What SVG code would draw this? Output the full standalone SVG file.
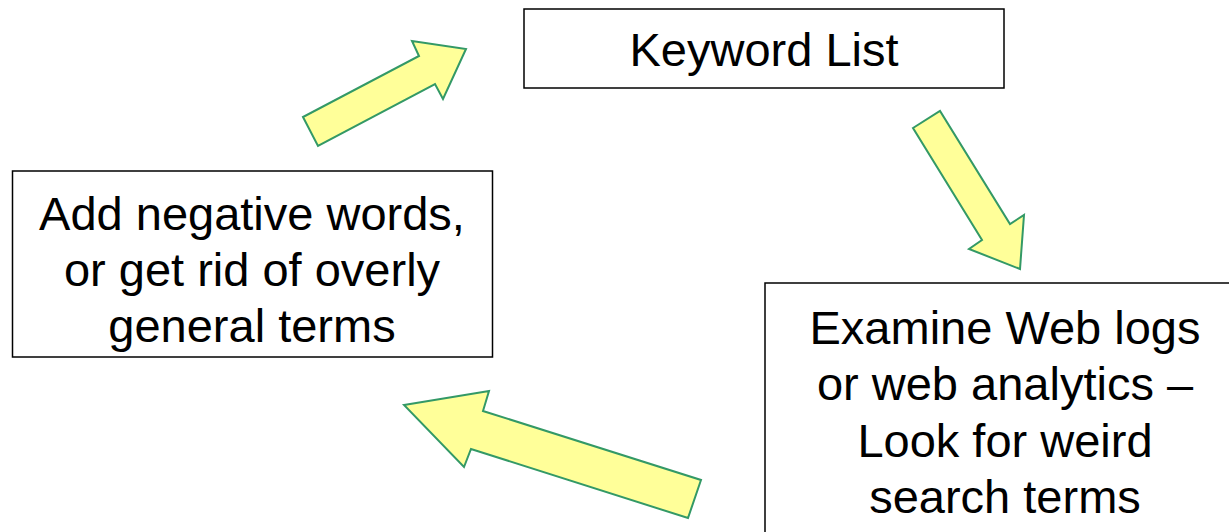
<svg xmlns="http://www.w3.org/2000/svg" width="1229" height="532" viewBox="0 0 1229 532">
<style>
.box{fill:#fff;stroke:#000;stroke-width:1.5}
.lbl{font-family:"Liberation Sans",Arial,sans-serif;font-size:47px;fill:#000;text-anchor:middle}
.arr{fill:#FFFF99;stroke:#339966;stroke-width:2;stroke-linejoin:miter}
</style>
<rect width="1229" height="532" fill="#fff"/>
<g id="connectors">
<polygon class="arr" points="303,117 318,146 435,84 443,99 466,49 412,41 419,56"/>
<polygon class="arr" points="913,128 940,111 1010,224 1024,215 1020,269 969,249 982,240"/>
<polygon class="arr" points="404,405 489,391 483,411 701,480 688,518 471,449 464,467"/>
</g>
<g id="keyword-list">
<rect class="box" x="524" y="9" width="480" height="79"/>
<text class="lbl" x="764" y="66">Keyword List</text>
</g>
<g id="add-negative">
<rect class="box" x="12.5" y="171" width="480" height="186"/>
<text class="lbl" x="252" y="230">Add negative words,</text>
<text class="lbl" x="252" y="286">or get rid of overly</text>
<text class="lbl" x="252" y="342">general terms</text>
</g>
<g id="examine-logs">
<rect class="box" x="765" y="283" width="480" height="270"/>
<text class="lbl" x="1005" y="344">Examine Web logs</text>
<text class="lbl" x="1005" y="400">or web analytics –</text>
<text class="lbl" x="1005" y="457">Look for weird</text>
<text class="lbl" x="1005" y="513">search terms</text>
</g>
</svg>
